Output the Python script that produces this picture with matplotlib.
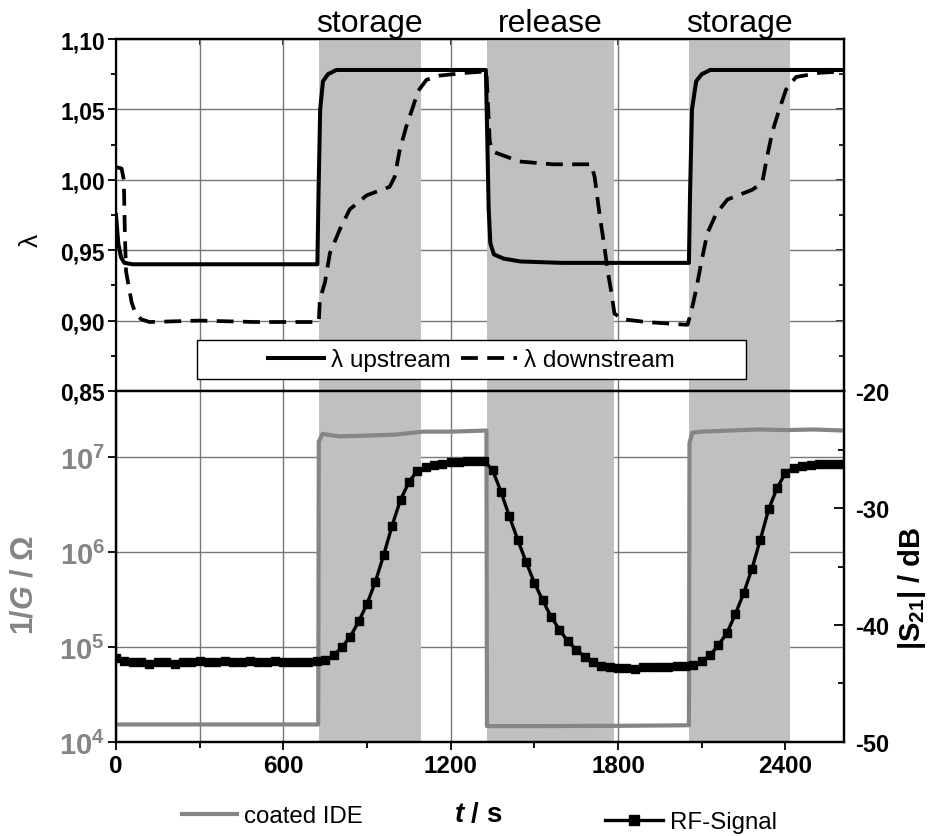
import numpy as np
import matplotlib
matplotlib.use("Agg")
import matplotlib.pyplot as plt
from matplotlib.lines import Line2D
from matplotlib.patches import Rectangle
from matplotlib.ticker import MultipleLocator, FuncFormatter, NullLocator, FixedLocator

plt.rcParams['font.family'] = ['Liberation Sans', 'DejaVu Sans']
plt.rcParams['mathtext.fontset'] = 'custom'
plt.rcParams['mathtext.rm'] = 'Liberation Sans:bold'
plt.rcParams['mathtext.bf'] = 'Liberation Sans:bold'
plt.rcParams['mathtext.it'] = 'Liberation Sans:italic:bold'
plt.rcParams['mathtext.default'] = 'bf'
plt.rcParams['axes.unicode_minus'] = False

# ---- data ----
# shaded phases (s)
band_start = [727, 1329, 2053]
band_end = [1093, 1787, 2418]
band_names = ["storage", "release", "storage"]

# lambda upstream
up_t = [0, 8, 18, 30, 60, 722, 726, 732, 742, 760, 790, 1326, 1330, 1336, 1342,
        1355, 1390, 1450, 1600, 2054, 2058, 2065, 2080, 2100, 2130, 2610]
up_v = [0.975, 0.955, 0.945, 0.941, 0.940, 0.940, 0.990, 1.050, 1.070, 1.075, 1.078,
        1.078, 1.040, 0.980, 0.955, 0.947, 0.944, 0.942, 0.941, 0.941, 0.990, 1.050,
        1.070, 1.075, 1.078, 1.078]

# lambda downstream
dn_t = [0, 20, 28, 32, 36, 45, 56, 70, 90, 120, 300, 500, 727, 731, 749, 767, 803,
        838, 899, 981, 999, 1017, 1041, 1065, 1083, 1113, 1160, 1256, 1328, 1332,
        1340, 1351, 1447, 1566, 1704, 1716, 1734, 1752, 1763, 1776, 1787, 1816, 1900,
        2049, 2062, 2080, 2098, 2120, 2152, 2192, 2282, 2317, 2335, 2353, 2378, 2402,
        2438, 2522, 2610]
dn_v = [1.009, 1.008, 1.000, 0.960, 0.935, 0.925, 0.913, 0.905, 0.901, 0.899, 0.900,
        0.899, 0.899, 0.915, 0.927, 0.948, 0.965, 0.979, 0.989, 0.995, 1.002, 1.021,
        1.038, 1.052, 1.063, 1.071, 1.074, 1.076, 1.077, 1.060, 1.027, 1.020, 1.013,
        1.011, 1.011, 1.002, 0.975, 0.951, 0.935, 0.920, 0.905, 0.901, 0.899, 0.897,
        0.906, 0.922, 0.941, 0.962, 0.976, 0.986, 0.993, 0.998, 1.017, 1.034, 1.050,
        1.064, 1.073, 1.076, 1.077]

# coated IDE, 1/G in Ohm
ide_t = [0, 725, 727, 740, 800, 900, 1000, 1100, 1200, 1328, 1330, 1500, 1800, 2054,
         2056, 2066, 2100, 2200, 2300, 2400, 2500, 2610]
ide_v = [1.53e4, 1.53e4, 1.45e7, 1.75e7, 1.65e7, 1.68e7, 1.72e7, 1.85e7, 1.85e7, 1.9e7,
         1.47e4, 1.47e4, 1.48e4, 1.5e4, 1.4e7, 1.8e7, 1.85e7, 1.9e7, 1.95e7, 1.92e7,
         1.95e7, 1.9e7]

# RF-Signal |S21| in dB, one point every 30 s
rf_t = [0, 30, 60, 90, 120, 150, 180, 210, 240, 270, 300, 330, 360, 390, 420, 450,
        480, 510, 540, 570, 600, 630, 660, 690, 720, 750, 780, 810, 840, 870, 900,
        930, 960, 990, 1020, 1050, 1080, 1110, 1140, 1170, 1200, 1230, 1260, 1290,
        1320, 1350, 1380, 1410, 1440, 1470, 1500, 1530, 1560, 1590, 1620, 1650, 1680,
        1710, 1740, 1770, 1800, 1830, 1860, 1890, 1920, 1950, 1980, 2010, 2040, 2070,
        2100, 2130, 2160, 2190, 2220, 2250, 2280, 2310, 2340, 2370, 2400, 2430, 2460,
        2490, 2520, 2550, 2580, 2610]
rf_v = [-42.8, -43.1, -43.2, -43.2, -43.3, -43.2, -43.2, -43.3, -43.2, -43.2, -43.1,
        -43.2, -43.2, -43.1, -43.2, -43.2, -43.1, -43.2, -43.2, -43.1, -43.2, -43.2,
        -43.2, -43.2, -43.1,
        -43.0, -42.6, -41.9, -41.0, -39.7, -38.2, -36.3, -34.0, -31.5, -29.3, -27.8,
        -26.8, -26.5, -26.3, -26.2, -26.1, -26.1, -26.0, -26.0, -26.0,
        -26.75, -28.6, -30.7, -32.7, -34.6, -36.4, -37.9, -39.3, -40.4, -41.4, -42.1,
        -42.7, -43.2, -43.5, -43.6, -43.7, -43.7, -43.8, -43.6, -43.6, -43.6, -43.6,
        -43.5, -43.5, -43.4, -43.1, -42.6, -41.7, -40.7, -39.1, -37.3, -35.2, -32.7,
        -30.1, -28.3, -27.0, -26.55, -26.4, -26.3, -26.2, -26.2, -26.2, -26.2]

band_c = '#c0c0c0'
grid_c = '#777777'
ide_c = '#858585'

fig = plt.figure(figsize=(9.39, 8.37), dpi=100)
L, R = 116 / 939, 844 / 939
ax1 = fig.add_axes([L, 1 - 392 / 837, R - L, (392 - 40) / 837])
ax2 = fig.add_axes([L, 1 - 743 / 837, R - L, (743 - 392) / 837], sharex=ax1)
ax3 = ax2.twinx()

for ax in (ax1, ax2):
    ax.set_axisbelow(True)
    for a, b in zip(band_start, band_end):
        ax.axvspan(a, b, color=band_c, lw=0, zorder=1)
    ax.xaxis.grid(True, which='both', color=grid_c, lw=1)
    ax.yaxis.grid(True, which='major', color=grid_c, lw=1)

for ax in (ax1, ax2, ax3):
    for s in ax.spines.values():
        s.set_linewidth(1.6)

# ---- top panel: lambda ----
ax1.plot(up_t, up_v, color='black', lw=2.9, zorder=3, label='λ upstream')
ax1.plot(dn_t, dn_v, color='black', lw=2.7, ls=(0, (4.5, 2.5)), zorder=3,
         label='λ downstream')
ax1.set_xlim(0, 2610)
ax1.set_ylim(0.85, 1.10)
ax1.yaxis.set_major_locator(MultipleLocator(0.05))
ax1.yaxis.set_minor_locator(MultipleLocator(0.025))
ax1.yaxis.set_major_formatter(FuncFormatter(lambda v, p: f'{v:.2f}'.replace('.', ',')))
ax1.xaxis.set_major_locator(MultipleLocator(600))
ax1.xaxis.set_minor_locator(MultipleLocator(300))
ax1.tick_params(axis='x', which='both', bottom=False, labelbottom=False)
ax1.tick_params(axis='y', which='major', direction='out', length=6, width=1.3, pad=2,
                labelsize=16.5)
ax1.tick_params(axis='y', which='minor', direction='out', length=3.5, width=1.3)
for lab in ax1.get_yticklabels():
    lab.set_fontweight('bold')
ax1.set_ylabel('λ', fontsize=19)
ax1.yaxis.set_label_coords(-0.100, 0.43)

sec_r = ax1.secondary_yaxis('right')
sec_r.yaxis.set_major_locator(MultipleLocator(0.05))
sec_r.yaxis.set_minor_locator(MultipleLocator(0.025))
sec_r.tick_params(which='major', direction='in', length=6, width=1.2, labelright=False)
sec_r.tick_params(which='minor', direction='in', length=3.5, width=1.2)
sec_r.spines['right'].set_linewidth(1.6)
sec_t = ax1.secondary_xaxis('top')
sec_t.xaxis.set_major_locator(MultipleLocator(600))
sec_t.xaxis.set_minor_locator(MultipleLocator(300))
sec_t.tick_params(which='both', direction='in', length=4, width=1.2, labeltop=False)
sec_t.spines['top'].set_linewidth(1.6)

for a, b, name in zip(band_start, band_end, band_names):
    ax1.text((a + b) / 2, 1.023, name, transform=ax1.get_xaxis_transform(),
             ha='center', va='baseline', fontsize=23)

ax1.add_patch(Rectangle((0.111, 0.034), 0.755, 0.111, transform=ax1.transAxes,
                        fc='white', ec='black', lw=1, zorder=5))
leg1 = ax1.legend(loc='center', bbox_to_anchor=(0.488, 0.089), ncol=2, frameon=False,
                  fontsize=17.5, handlelength=2.3, handletextpad=0.3, columnspacing=0.4,
                  borderpad=0)
leg1.set_zorder(6)

# ---- bottom panel: 1/G (left, log) and |S21| (right) ----
ax2.plot(ide_t, ide_v, color=ide_c, lw=3, zorder=3)
ax2.set_yscale('log')
ax2.set_ylim(1e4, 10 ** 7.695)
ax2.yaxis.set_major_locator(FixedLocator([1e4, 1e5, 1e6, 1e7]))
ax2.yaxis.set_minor_locator(NullLocator())
ax2.set_yticklabels([r'$\mathbf{10^{4}}$', r'$\mathbf{10^{5}}$',
                     r'$\mathbf{10^{6}}$', r'$\mathbf{10^{7}}$'])
ax2.tick_params(axis='y', which='major', direction='out', length=6, width=1.3, pad=2,
                labelsize=21, labelcolor=ide_c)
ax2.tick_params(axis='x', which='major', direction='out', length=6, width=1.3, pad=3,
                labelsize=17.5)
ax2.tick_params(axis='x', which='minor', direction='out', length=4, width=1.3)
for lab in ax2.get_xticklabels():
    lab.set_fontweight('bold')
ax2.set_ylabel('1/$\\mathit{G}$ / Ω', color=ide_c, fontsize=22, fontweight='bold')
ax2.yaxis.set_label_coords(-0.105, 0.45)
ax2.set_xlabel('$\\mathit{t}$ / s', fontsize=20, fontweight='bold')
ax2.xaxis.set_label_coords(0.497, -0.168)

ax3.plot(rf_t, rf_v, color='black', lw=2.4, marker='s', ms=5.5, zorder=4)
ax3.set_ylim(-50, -20)
ax3.yaxis.set_major_locator(MultipleLocator(10))
ax3.yaxis.set_minor_locator(MultipleLocator(5))
ax3.tick_params(axis='y', which='major', direction='in', length=7, width=1.3, pad=8,
                labelsize=17)
ax3.tick_params(axis='y', which='minor', direction='in', length=4, width=1.3)
for lab in ax3.get_yticklabels():
    lab.set_fontweight('bold')
ax3.set_ylabel('|S$_{21}$| / dB', fontsize=21, fontweight='bold')
ax3.yaxis.set_label_coords(1.071, 0.44)

h_ide = Line2D([], [], color=ide_c, lw=3)
h_rf = Line2D([], [], color='black', lw=2.4, marker='s', ms=7.5)
fig.legend(handles=[h_ide], labels=['coated IDE'], loc='center left',
           bbox_to_anchor=(182 / 939, 1 - 817 / 837), frameon=False, fontsize=17.3,
           handlelength=2.3, handletextpad=0.3, borderpad=0, borderaxespad=0)
fig.legend(handles=[h_rf], labels=['RF-Signal'], loc='center left',
           bbox_to_anchor=(605 / 939, 1 - 823 / 837), frameon=False, fontsize=17.3,
           handlelength=2.4, handletextpad=0.3, borderpad=0, borderaxespad=0)

fig.savefig('out.png', dpi=100)
